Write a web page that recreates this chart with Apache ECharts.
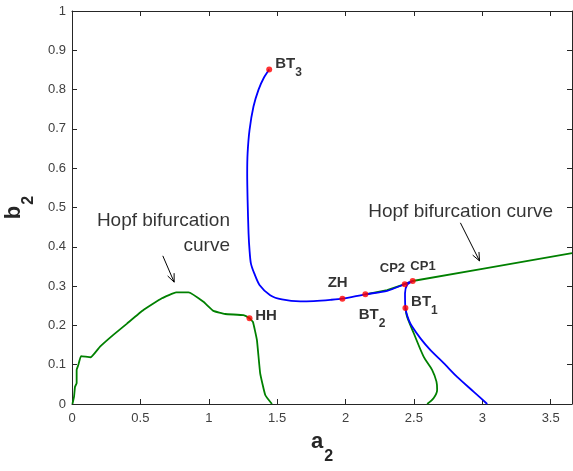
<!DOCTYPE html>
<html><head><meta charset="utf-8">
<script src="https://cdn.jsdelivr.net/npm/echarts@6/dist/echarts.min.js"></script>
<style>html,body{margin:0;padding:0;background:#fff}#c{width:573px;height:471px}</style>
</head><body><div id="c"></div>
<script>
// ---- data ----
const xTicks = [0, 0.5, 1, 1.5, 2, 2.5, 3, 3.5];
const yTicks = [0, 0.1, 0.2, 0.3, 0.4, 0.5, 0.6, 0.7, 0.8, 0.9, 1];

// blue curve (BT3 -> ZH -> BT2 -> CP2 -> CP1 -> BT1 -> axis)
const blueA = [1.442,1.401,1.364,1.327,1.298,1.284,1.281,1.284,1.291,1.298,1.308,1.332,1.371,1.449,1.535,1.669,1.767,1.889,1.977,2.145,2.304,2.433,2.491,2.45,2.435,2.438,2.462,2.487,2.548,2.621,2.718,2.816,2.938,3.036];
const blueB = [0.851,0.829,0.800,0.757,0.697,0.638,0.587,0.519,0.434,0.392,0.358,0.333,0.303,0.277,0.266,0.261,0.262,0.265,0.268,0.279,0.288,0.305,0.313,0.303,0.282,0.244,0.214,0.197,0.167,0.137,0.104,0.069,0.031,0];

// green Hopf curve, left branch
const greenLeftA = [0.003,0.015,0.022,0.034,0.034,0.046,0.066,0.137,0.205,0.302,0.4,0.522,0.657,0.761,0.852,0.961,1.034,1.12,1.254,1.298,1.323,1.352,1.376,1.413,1.462];
const greenLeftB = [0,0.019,0.044,0.053,0.087,0.099,0.122,0.119,0.146,0.176,0.204,0.239,0.269,0.284,0.284,0.26,0.237,0.229,0.226,0.218,0.209,0.163,0.078,0.023,0];

// green Hopf curve, right straight branch
const greenRightA = [2.145,2.304,2.433,2.491,3.0,3.656];
const greenRightB = [0.279,0.29,0.305,0.313,0.344,0.384];

// green Hopf curve, branch from BT1 down to axis
const greenDownA = [2.438,2.45,2.499,2.572,2.633,2.665,2.67,2.645,2.597];
const greenDownB = [0.244,0.222,0.18,0.12,0.087,0.057,0.036,0.015,0];

// special points
const pointNames = ['BT3','ZH','BT2','CP2','CP1','BT1','HH'];
const pointA = [1.442,1.977,2.145,2.433,2.491,2.438,1.298];
const pointB = [0.851,0.268,0.279,0.305,0.313,0.244,0.218];

// annotation arrows [fromA, fromB, toA, toB]
const arrowFromA = [0.664, 2.84];
const arrowFromB = [0.377, 0.461];
const arrowToA = [0.747, 2.98];
const arrowToB = [0.31, 0.364];

// annotation texts
const noteTexts = ['Hopf bifurcation\ncurve', 'Hopf bifurcation curve'];
const noteA = [1.155, 2.166];
const noteB = [0.434, 0.49];

// ---- presentation ----
const FONT = "'Liberation Sans', Arial, Helvetica, sans-serif";
const AXC = '#262626';
const pointLabelOffset = { // text block top-left relative to point centre (px)
  BT3: [6, -13.5], ZH: [-14.7, -23.4], BT2: [-6.7, 12.7], CP2: [-25, -22.2],
  CP1: [-2.3, -21.5], BT1: [5.7, -13.8], HH: [5.7, -9.5]
};
const DOT = 6;

function pairs(a, b) { return a.map((v, i) => [v, b[i]]); }
function labelText(n) {
  if (n.startsWith('CP')) return '{c|' + n + '}';
  const m = n.match(/^([A-Z]+)(\d*)$/);
  return '{m|' + m[1] + '}' + (m[2] ? '{s|' + m[2] + '}' : '');
}
const labelRich = {
  m: {fontSize: 15, fontWeight: 'bold', fontFamily: FONT, color: '#000', verticalAlign: 'top'},
  s: {fontSize: 12, fontWeight: 'bold', fontFamily: FONT, color: '#000', verticalAlign: 'top', padding: [10.5, 0, 0, 0]},
  c: {fontSize: 13, fontWeight: 'bold', fontFamily: FONT, color: '#000', verticalAlign: 'top'}
};
const axisNameRich = {
  m: {fontSize: 22, fontWeight: 'bold', fontFamily: FONT, color: '#262626', verticalAlign: 'top'},
  s: {fontSize: 16, fontWeight: 'bold', fontFamily: FONT, color: '#262626', verticalAlign: 'top', padding: [18, 0, 0, 1]}
};

const XMIN = xTicks[0], XMAX = 3.656, YMIN = yTicks[0], YMAX = yTicks[yTicks.length - 1];
const XINT = xTicks[1] - xTicks[0], YINT = yTicks[1] - yTicks[0];

function baseX(pos, showLabel) {
  return {
    type: 'value', min: XMIN, max: XMAX, interval: XINT, position: pos,
    axisLine: {show: true, onZero: false, lineStyle: {color: AXC, width: 1}},
    axisTick: {show: true, inside: true, length: 5, lineStyle: {color: AXC}},
    axisLabel: {show: showLabel, color: '#404040', fontSize: 13, fontFamily: FONT, margin: 8, showMaxLabel: false},
    splitLine: {show: false}
  };
}
function baseY(pos, showLabel) {
  return {
    type: 'value', min: YMIN, max: YMAX, interval: YINT, position: pos,
    axisLine: {show: true, onZero: false, lineStyle: {color: AXC, width: 1}},
    axisTick: {show: true, inside: true, length: 5, lineStyle: {color: AXC}},
    axisLabel: {show: showLabel, color: '#404040', fontSize: 13, fontFamily: FONT, margin: 6},
    splitLine: {show: false}
  };
}

const xMain = Object.assign(baseX('bottom', true), {
  name: '{m|a}{s|2}', nameLocation: 'middle', nameGap: 27,
  nameTextStyle: {rich: axisNameRich}
});
const yMain = Object.assign(baseY('left', true), {
  name: '{m|b}{s|2}', nameLocation: 'middle', nameGap: 27, nameRotate: 90,
  nameTextStyle: {rich: axisNameRich}
});

const chart = echarts.init(document.getElementById('c'), null, {renderer: 'canvas'});
chart.setOption({
  animation: false,
  backgroundColor: '#fff',
  grid: {left: 72, right: 1, top: 11, bottom: 67, containLabel: false, outerBoundsMode: 'none'},
  xAxis: [xMain, baseX('top', false)],
  yAxis: [yMain, baseY('right', false)],
  series: [
    {type: 'line', data: pairs(greenLeftA, greenLeftB), showSymbol: false, symbol: 'none',
     lineStyle: {color: '#008000', width: 1.8}, smooth: 0.1, z: 2},
    {type: 'line', data: pairs(greenRightA, greenRightB), showSymbol: false, symbol: 'none',
     lineStyle: {color: '#008000', width: 1.8}, z: 2},
    {type: 'line', data: pairs(greenDownA, greenDownB), showSymbol: false, symbol: 'none',
     lineStyle: {color: '#008000', width: 1.8}, smooth: 0.3, z: 2},
    {type: 'line', data: pairs(blueA, blueB), showSymbol: false, symbol: 'none',
     lineStyle: {color: '#0000ff', width: 1.8}, smooth: 0.25, z: 3},
    {type: 'custom', z: 4, silent: true,
     data: arrowFromA.map((v, i) => [v, arrowFromB[i], arrowToA[i], arrowToB[i]]),
     encode: {x: [0, 2], y: [1, 3]},
     renderItem: function (params, api) {
       const p0 = api.coord([api.value(0), api.value(1)]);
       const p1 = api.coord([api.value(2), api.value(3)]);
       const ang = Math.atan2(p1[1] - p0[1], p1[0] - p0[0]);
       const L = 9, W = 0.4;
       const h1 = [p1[0] - L * Math.cos(ang - W), p1[1] - L * Math.sin(ang - W)];
       const h2 = [p1[0] - L * Math.cos(ang + W), p1[1] - L * Math.sin(ang + W)];
       return {type: 'group', children: [
         {type: 'line', shape: {x1: p0[0], y1: p0[1], x2: p1[0], y2: p1[1]}, style: {stroke: '#000', lineWidth: 1}},
         {type: 'polyline', shape: {points: [h1, p1, h2]}, style: {stroke: '#000', lineWidth: 1, fill: null}}
       ]};
     }},
    {type: 'scatter', z: 5, symbolSize: 0, silent: true,
     data: noteA.map((v, i) => ({
       value: [v, noteB[i]],
       label: {show: true, formatter: noteTexts[i], position: i === 0 ? 'left' : 'right', distance: 0,
               align: i === 0 ? 'right' : 'left', verticalAlign: 'middle',
               fontSize: 19, lineHeight: 25, fontFamily: FONT, color: '#000'}
     }))},
    {type: 'scatter', z: 6, symbol: 'circle', symbolSize: DOT, silent: true,
     itemStyle: {color: '#ff0000'},
     data: pointNames.map((n, i) => ({
       value: [pointA[i], pointB[i]],
       label: {show: true, formatter: labelText(n),
               position: [pointLabelOffset[n][0] + DOT / 2, pointLabelOffset[n][1] + DOT / 2],
               align: 'left', verticalAlign: 'top', rich: labelRich}
     }))}
  ]
});
</script>
</body></html>
